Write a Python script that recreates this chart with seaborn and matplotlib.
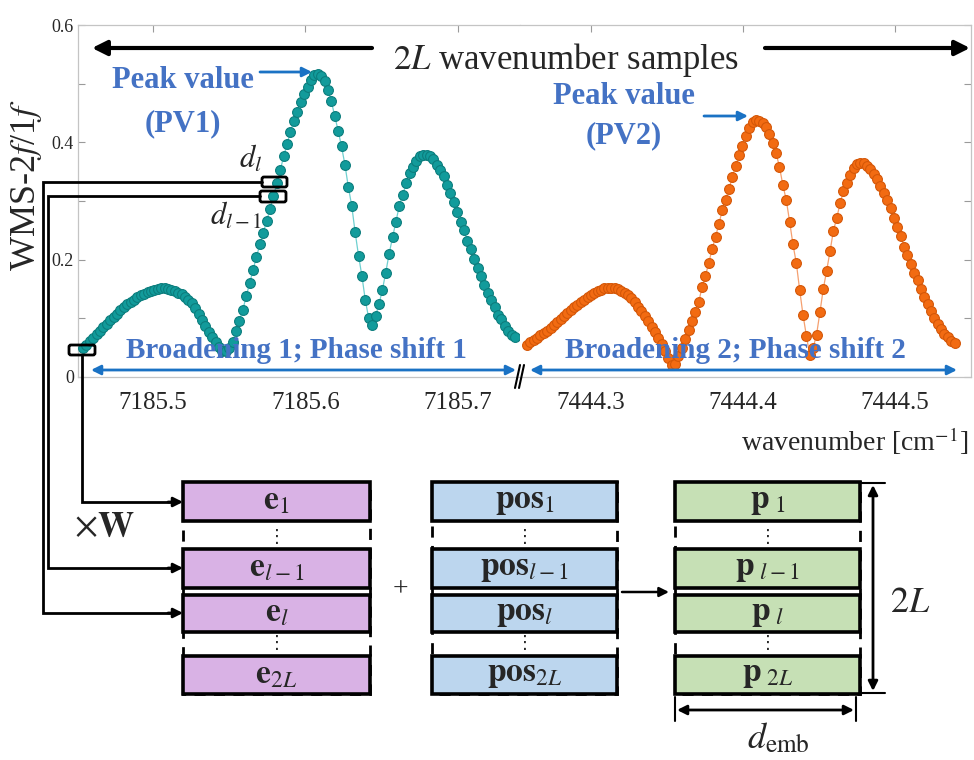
import numpy as np
import pandas as pd
import matplotlib
matplotlib.use("Agg")
import matplotlib.pyplot as plt
import seaborn as sns
from matplotlib.patches import Rectangle, FancyBboxPatch

# ---------------- data ----------------
wn1_start, wn1_stop = 7185.4541, 7185.7374
wn2_start, wn2_stop = 7444.258, 7444.539

wms_seg1 = [
    0.049, 0.055, 0.061, 0.067, 0.073, 0.079, 0.085, 0.091, 0.097, 0.103,
    0.108, 0.114, 0.119, 0.124, 0.128, 0.132, 0.136, 0.139, 0.142, 0.145,
    0.147, 0.149, 0.150, 0.151, 0.151, 0.150, 0.149, 0.147, 0.144, 0.141,
    0.137, 0.132, 0.126, 0.118, 0.108, 0.097, 0.087, 0.077, 0.068, 0.059,
    0.051, 0.045, 0.045, 0.050, 0.060, 0.078, 0.096, 0.115, 0.138, 0.160,
    0.183, 0.205, 0.226, 0.246, 0.266, 0.287, 0.308, 0.330, 0.353, 0.376,
    0.398, 0.418, 0.436, 0.452, 0.468, 0.482, 0.495, 0.506, 0.514, 0.517,
    0.513, 0.504, 0.490, 0.470, 0.445, 0.420, 0.393, 0.362, 0.324, 0.292,
    0.247, 0.207, 0.172, 0.131, 0.100, 0.089, 0.104, 0.124, 0.148, 0.178,
    0.210, 0.238, 0.265, 0.292, 0.310, 0.331, 0.347, 0.358, 0.369, 0.376,
    0.379, 0.379, 0.376, 0.371, 0.362, 0.353, 0.342, 0.327, 0.313, 0.298,
    0.281, 0.265, 0.250, 0.232, 0.218, 0.201, 0.185, 0.172, 0.157, 0.143,
    0.131, 0.120, 0.106, 0.099, 0.087, 0.078, 0.072, 0.068,
]

wms_seg2 = [
    0.055, 0.059, 0.063, 0.067, 0.071, 0.075, 0.079, 0.084, 0.089, 0.094,
    0.099, 0.104, 0.109, 0.114, 0.119, 0.123, 0.128, 0.132, 0.136, 0.140,
    0.143, 0.146, 0.149, 0.151, 0.152, 0.152, 0.152, 0.150, 0.147, 0.144,
    0.140, 0.134, 0.127, 0.120, 0.112, 0.104, 0.095, 0.086, 0.077, 0.067,
    0.057, 0.045, 0.032, 0.020, 0.022, 0.036, 0.050, 0.064, 0.080, 0.095,
    0.110, 0.128, 0.153, 0.172, 0.195, 0.218, 0.239, 0.261, 0.284, 0.302,
    0.321, 0.341, 0.360, 0.378, 0.394, 0.410, 0.424, 0.434, 0.438, 0.437,
    0.433, 0.426, 0.414, 0.399, 0.381, 0.358, 0.327, 0.302, 0.265, 0.226,
    0.194, 0.148, 0.105, 0.070, 0.037, 0.050, 0.072, 0.110, 0.150, 0.181,
    0.214, 0.249, 0.271, 0.296, 0.317, 0.331, 0.345, 0.357, 0.363, 0.365,
    0.365, 0.360, 0.354, 0.346, 0.337, 0.326, 0.313, 0.302, 0.288, 0.271,
    0.256, 0.241, 0.222, 0.208, 0.192, 0.178, 0.166, 0.150, 0.136, 0.125,
    0.113, 0.101, 0.091, 0.081, 0.073, 0.068, 0.062, 0.058,
]

xticks1 = [7185.5, 7185.6, 7185.7]
xticks2 = [7444.3, 7444.4, 7444.5]
yticks = [0.0, 0.1, 0.2, 0.3, 0.4, 0.5, 0.6]
ytick_labels = ["0", "", "0.2", "", "0.4", "", "0.6"]

row_subs = ["1", "l-1", "l", "2L"]

# ---------------- style ----------------
sns.set_style("white")
SERIF = "Liberation Serif"
plt.rcParams["font.family"] = [SERIF, "DejaVu Serif"]
plt.rcParams["mathtext.fontset"] = "stix"

W, H = 974, 760
fig = plt.figure(figsize=(W / 100, H / 100), dpi=100)

ax1 = fig.add_axes([78 / W, 1 - 377 / H, 442 / W, 352 / H])
ax2 = fig.add_axes([520 / W, 1 - 377 / H, 451 / W, 352 / H])

df1 = pd.DataFrame({"wn": np.linspace(wn1_start, wn1_stop, len(wms_seg1)), "wms": wms_seg1})
df2 = pd.DataFrame({"wn": np.linspace(wn2_start, wn2_stop, len(wms_seg2)), "wms": wms_seg2})

teal, teal_edge, teal_line = "#129b9b", "#0c7d7d", "#6fd0d0"
orng, orng_edge, orng_line = "#f26b12", "#d45708", "#f5a070"

sns.lineplot(data=df1, x="wn", y="wms", ax=ax1, color=teal_line, lw=0.9, zorder=2, legend=False)
sns.scatterplot(data=df1, x="wn", y="wms", ax=ax1, color=teal, edgecolor=teal_edge,
                s=50, linewidth=0.8, zorder=3, legend=False)
sns.lineplot(data=df2, x="wn", y="wms", ax=ax2, color=orng_line, lw=0.9, zorder=2, legend=False)
sns.scatterplot(data=df2, x="wn", y="wms", ax=ax2, color=orng, edgecolor=orng_edge,
                s=50, linewidth=0.8, zorder=3, legend=False)

spine_c = "#c4c4c4"
for ax in (ax1, ax2):
    ax.set_ylim(0, 0.6)
    ax.set_xlabel("")
    ax.set_ylabel("")
    for s in ax.spines.values():
        s.set_color(spine_c)
        s.set_linewidth(0.9)
    ax.tick_params(direction="in", length=5, width=0.8, color="#9a9a9a")
    ax.tick_params(axis="x", top=True, pad=11)
    ax.set_yticks(yticks)

ax1.set_xlim(7185.4508, 7185.7407)
ax1.set_xticks(xticks1)
ax1.set_xticklabels([f"{v:.1f}" for v in xticks1], fontsize=18, fontfamily=SERIF)
ax1.spines["right"].set_visible(False)
ax1.set_yticklabels(ytick_labels, fontsize=13, fontfamily=SERIF)
ax1.tick_params(axis="y", left=True, right=False, pad=3)

ax2.set_xlim(7444.2534, 7444.5498)
ax2.set_xticks(xticks2)
ax2.set_xticklabels([f"{v:.1f}" for v in xticks2], fontsize=18, fontfamily=SERIF)
ax2.spines["left"].set_visible(False)
ax2.tick_params(axis="y", left=False, right=True, labelleft=False, labelright=False)

# ---------------- overlay (diagram) ----------------
ov = fig.add_axes([0, 0, 1, 1], zorder=10)
ov.set_xlim(0, W)
ov.set_ylim(H, 0)
ov.axis("off")
ov.patch.set_alpha(0)

blue_txt = "#4472C4"
blue_arr = "#1a72c4"

def arrow(x0, y0, x1, y1, style="-|>", color="k", lw=2.0, ms=16):
    ov.annotate("", xy=(x1, y1), xytext=(x0, y0),
                arrowprops=dict(arrowstyle=style, color=color, lw=lw,
                                mutation_scale=ms, shrinkA=0, shrinkB=0))

# top black arrows + label
arrow(372, 48, 92, 48, lw=3.0, ms=22)
arrow(765, 48, 970, 48, lw=3.0, ms=22)
ov.text(566, 60, r"$2L$ wavenumber samples", fontsize=25, ha="center", va="center")

# y label
ov.text(27, 185, r"WMS-2$f$/1$f$", fontsize=26, rotation=90, ha="center", va="center")

# peak annotations
for (cx, y1, y2, lab) in [(183, 80, 124, "(PV1)"), (624, 97, 136, "(PV2)")]:
    ov.text(cx, y1, "Peak value", fontsize=22, fontweight="bold", color=blue_txt,
            ha="center", va="center")
    ov.text(cx, y2, lab, fontsize=22, fontweight="bold", color=blue_txt,
            ha="center", va="center")
arrow(260, 72, 312, 72, color=blue_arr, lw=2.0, ms=14)
arrow(704, 116, 748, 116, color=blue_arr, lw=2.0, ms=14)

# broadening labels and arrows
ov.text(296, 350, "Broadening 1; Phase shift 1", fontsize=21, fontweight="bold",
        color=blue_txt, ha="center", va="center")
ov.text(735, 350, "Broadening 2; Phase shift 2", fontsize=21, fontweight="bold",
        color=blue_txt, ha="center", va="center")
arrow(91, 370, 516, 370, style="<|-|>", color=blue_arr, lw=2.0, ms=14)
arrow(530, 370, 957, 370, style="<|-|>", color=blue_arr, lw=2.0, ms=14)

# axis break mark
ov.plot([515, 520], [388, 365], color="k", lw=1.5)
ov.plot([519, 524], [388, 365], color="k", lw=1.5)

# x label
ov.text(968, 441, r"wavenumber [cm$^{\mathrm{-1}}$]", fontsize=20, ha="right", va="center")

# d_l labels and sample boxes
ov.text(251, 159, r"$d_l$", fontsize=22, ha="center", va="center")
ov.text(236, 216, r"$d_{l-1}$", fontsize=22, ha="center", va="center")
for (x, y, w, h) in [(69, 345, 26, 10), (262, 177, 25, 10), (260, 191, 26, 11)]:
    ov.add_patch(FancyBboxPatch((x, y), w, h, boxstyle="round,pad=0,rounding_size=2",
                                fc="none", ec="k", lw=2.0))

# connectors
ov.plot([262, 43, 43, 170], [182, 182, 613, 613], color="k", lw=2.0, solid_joinstyle="miter")
arrow(168, 613, 183, 613, lw=2.0, ms=14)
ov.plot([260, 48, 48, 170], [196, 196, 568, 568], color="k", lw=2.0, solid_joinstyle="miter")
arrow(168, 568, 183, 568, lw=2.0, ms=14)
ov.plot([82, 82, 170], [355, 502, 502], color="k", lw=2.0, solid_joinstyle="miter")
arrow(168, 502, 183, 502, lw=2.0, ms=14)

ov.text(104, 527, r"$\times\mathbf{W}$", fontsize=26, ha="center", va="center")

# embedding columns
rows = [(482, 521), (549, 588), (595, 632), (656, 694)]
cols = [
    (183, 370, "#d9b2e5", r"\mathbf{e}"),
    (432, 617, "#bcd6ee", r"\mathbf{pos}"),
    (675, 860, "#c6e0b5", r"\mathbf{p}"),
]
for (x0, x1, fc, sym) in cols:
    ov.add_patch(Rectangle((x0, 482), x1 - x0, 212, fc="none", ec="k", lw=2.0,
                           ls=(0, (4, 3)), zorder=1))
    for (y0, y1), sub in zip(rows, row_subs):
        ov.add_patch(Rectangle((x0, y0), x1 - x0, y1 - y0, fc=fc, ec="k", lw=2.6, zorder=2))
        gap = r"\,\," if sym == r"\mathbf{p}" else ""
        ov.text((x0 + x1) / 2, (y0 + y1) / 2, rf"${sym}_{{{gap}{sub}}}$", fontsize=24,
                ha="center", va="center", zorder=3)
    cx = (x0 + x1) / 2
    for yc in (537, 643):
        ov.text(cx, yc, "\u22ee", fontsize=13, ha="center", va="center",
                family=["DejaVu Sans"], zorder=3)

ov.text(400, 590, "+", fontsize=20, ha="center", va="center")
arrow(622, 592, 669, 592, lw=1.8, ms=14)

# 2L dimension
ov.plot([860, 885], [483, 483], color="k", lw=1.5)
ov.plot([860, 885], [693, 693], color="k", lw=1.5)
arrow(873, 485, 873, 691, style="<|-|>", lw=2.0, ms=14)
ov.text(910, 604, r"$2L$", fontsize=26, ha="center", va="center")

# d_emb dimension
ov.plot([675, 675], [697, 721], color="k", lw=1.5)
ov.plot([856, 856], [697, 721], color="k", lw=1.5)
arrow(677, 710, 854, 710, style="<|-|>", lw=2.0, ms=14)
ov.text(778, 739, r"$d_{\mathrm{emb}}$", fontsize=26, ha="center", va="center")

fig.savefig("out.png", dpi=100)
